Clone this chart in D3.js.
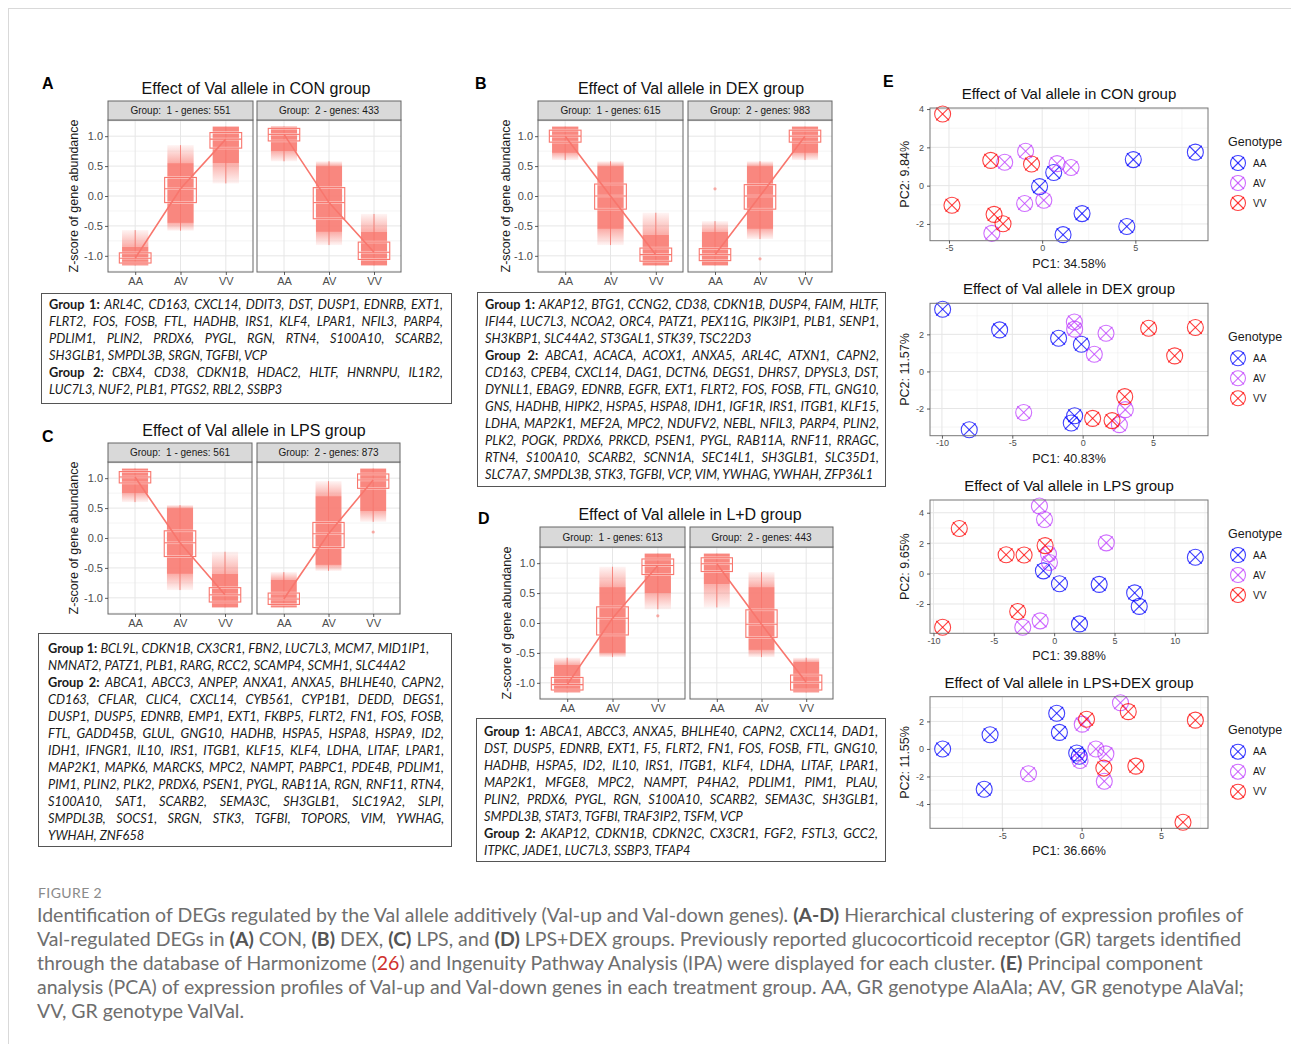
<!DOCTYPE html>
<html>
<head>
<meta charset="utf-8">
<script src="https://cdn.jsdelivr.net/npm/d3@7"></script>
<style>
  body { margin: 0; background: #fff; }
  #fig { position: relative; width: 1291px; height: 1044px; overflow: hidden; }
  #fig svg { position: absolute; left: 0; top: 0; }
  .genebox, .measure {
    font-family: Lato, "Liberation Sans", sans-serif; font-size: 13.5px; color: #1a1a1a;
  }
  .genebox {
    position: absolute; box-sizing: border-box; border: 1px solid #555; line-height: 17px;
  }
  .measure { position: absolute; visibility: hidden; white-space: nowrap; left: 0; top: 0; }
  .ln { font-style: italic; height: 17px; overflow: visible; }
  .full { text-align: justify; text-align-last: justify; }
  .genebox b, .measure b { font-style: normal; font-weight: 700; }
  .measure span { font-style: italic; }
</style>
</head>
<body>
<div id="fig"></div>
<script>
// ---- data: panels A-D (z-score profiles) ----
const genotypes = ["AA", "AV", "VV"];
const panelLetters = ["A", "B", "C", "D"];
const panelTitles = [
    "Effect of Val allele in CON group",
    "Effect of Val allele in DEX group",
    "Effect of Val allele in LPS group",
    "Effect of Val allele in L+D group"
];
const geneCounts = [[551, 433], [615, 983], [561, 873], [613, 443]];
const zTicks = [-1, -0.5, 0, 0.5, 1];

// one row per facet (A1, A2, B1, B2, C1, C2, D1, D2), columns AA, AV, VV
const boxQ1 = [
    [-1.12, -0.11, 0.80], [0.92, -0.38, -1.06],
    [0.90, -0.22, -1.09], [-1.08, -0.22, 0.90],
    [0.92, -0.31, -1.07], [-1.11, -0.16, 0.83],
    [-1.12, -0.20, 0.81], [0.86, -0.24, -1.12]
];
const boxMedian = [
    [-1.04, 0.12, 0.95], [1.03, -0.11, -0.94],
    [1.00, 0.00, -0.98], [-0.98, 0.00, 1.00],
    [1.02, -0.08, -0.95], [-1.02, 0.07, 0.97],
    [-1.03, 0.08, 0.96], [0.99, -0.02, -0.99]
];
const boxQ3 = [
    [-0.95, 0.31, 1.06], [1.13, 0.14, -0.77],
    [1.10, 0.20, -0.87], [-0.88, 0.19, 1.10],
    [1.11, 0.12, -0.83], [-0.92, 0.26, 1.07],
    [-0.91, 0.27, 1.07], [1.09, 0.22, -0.87]
];
const cloudMin = [
    [-1.16, -0.58, 0.21], [0.58, -0.82, -1.16],
    [0.60, -0.82, -1.16], [-1.16, -0.72, 0.60],
    [0.60, -0.87, -1.16], [-1.16, -0.55, 0.27],
    [-1.16, -0.57, 0.23], [0.26, -0.57, -1.16]
];
const cloudCoreLo = [
    [-1.16, -0.45, 0.55], [0.75, -0.60, -1.16],
    [0.72, -0.55, -1.16], [-1.16, -0.55, 0.72],
    [0.75, -0.60, -1.16], [-1.16, -0.45, 0.45],
    [-1.16, -0.50, 0.50], [0.65, -0.45, -1.16]
];
const cloudCoreHi = [
    [-0.85, 0.55, 1.16], [1.16, 0.50, -0.60],
    [1.16, 0.50, -0.65], [-0.60, 0.50, 1.16],
    [1.16, 0.50, -0.60], [-0.70, 0.70, 1.16],
    [-0.70, 0.60, 1.16], [1.16, 0.60, -0.65]
];
const cloudMax = [
    [-0.57, 0.85, 1.16], [1.16, 0.58, -0.30],
    [1.16, 0.58, -0.28], [-0.42, 0.58, 1.16],
    [1.16, 0.55, -0.23], [-0.57, 0.95, 1.16],
    [-0.58, 0.94, 1.16], [1.16, 0.85, -0.58]
];
// stray points: [facet, genotype index, z]
const strayPoints = [[3, 0, 0.12], [3, 1, -1.05], [5, 2, 0.10], [6, 2, 0.12]];

// ---- data: panel E (PCA) ----
const pcaTitles = [
    "Effect of Val allele in CON group",
    "Effect of Val allele in DEX group",
    "Effect of Val allele in LPS group",
    "Effect of Val allele in LPS+DEX group"
];
const pc1Labels = ["PC1: 34.58%", "PC1: 40.83%", "PC1: 39.88%", "PC1: 36.66%"];
const pc2Labels = ["PC2: 9.84%", "PC2: 11.57%", "PC2: 9.65%", "PC2: 11.55%"];
const sampleGeno = ["AA","AA","AA","AA","AA","AA","AA","AV","AV","AV","AV","AV","AV","AV","VV","VV","VV","VV","VV","VV"];

const conPC1 = [-0.14, 0.62, 2.14, 1.12, 4.54, 4.89, 8.22, -2.01, -0.89, 0.80, 1.55, -0.94, 0.09, -2.70, -5.34, -2.76, -0.57, -4.84, -2.58, -2.10];
const conPC2 = [-0.05, 0.69, -1.46, -2.56, -2.13, 1.36, 1.75, 1.22, 1.80, 1.15, 0.95, -0.93, -0.76, -2.49, 3.74, 1.32, 1.13, -1.02, -1.50, -1.99];
const dexPC1 = [-9.95, -5.90, -1.71, -0.09, -8.06, -0.57, -0.81, -0.59, -0.57, 1.66, 0.83, -4.19, 3.03, 2.61, 4.69, 8.01, 6.54, 2.99, 0.71, 2.09];
const dexPC2 = [3.35, 2.24, 1.79, 1.47, -3.14, -2.39, -2.78, 2.67, 2.28, 2.06, 0.93, -2.21, -2.06, -2.87, 2.33, 2.37, 0.84, -1.36, -2.53, -2.65];
const lpsPC1 = [-0.89, 0.44, 3.73, 6.67, 7.05, 2.10, 11.70, -1.22, -0.80, -0.47, -0.39, 4.32, -1.16, -2.60, -7.86, -3.98, -2.49, -0.75, -3.02, -9.24];
const lpsPC2 = [0.18, -0.67, -0.71, -1.27, -2.16, -3.31, 1.07, 4.44, 3.56, 1.29, 0.73, 2.02, -3.11, -3.53, 2.96, 1.24, 1.22, 1.84, -2.49, -3.53];
const ldPC1 = [-8.76, -5.77, -1.57, -1.40, -6.14, -0.31, -0.15, -3.35, 0.04, 2.45, 0.90, 1.53, 1.43, -0.10, 0.31, 2.94, 7.17, 1.40, 3.42, 6.39];
const ldPC2 = [0.00, 1.03, 2.59, 1.20, -2.93, -0.29, -0.53, -1.80, 1.80, 3.36, 0.00, -0.36, -2.35, -0.84, 2.16, 2.71, 2.09, -1.39, -1.25, -5.33];
const pcaTickStep = [[5, 2], [5, 2], [5, 2], [5, 2]];

// ---- gene lists (one string per printed line) ----
const conGroup1 = ["ARL4C, CD163, CXCL14, DDIT3, DST, DUSP1, EDNRB, EXT1,", "FLRT2, FOS, FOSB, FTL, HADHB, IRS1, KLF4, LPAR1, NFIL3, PARP4,", "PDLIM1, PLIN2, PRDX6, PYGL, RGN, RTN4, S100A10, SCARB2,", "SH3GLB1, SMPDL3B, SRGN, TGFBI, VCP"];
const conGroup2 = ["CBX4, CD38, CDKN1B, HDAC2, HLTF, HNRNPU, IL1R2,", "LUC7L3, NUF2, PLB1, PTGS2, RBL2, SSBP3"];
const dexGroup1 = ["AKAP12, BTG1, CCNG2, CD38, CDKN1B, DUSP4, FAIM, HLTF,", "IFI44, LUC7L3, NCOA2, ORC4, PATZ1, PEX11G, PIK3IP1, PLB1, SENP1,", "SH3KBP1, SLC44A2, ST3GAL1, STK39, TSC22D3"];
const dexGroup2 = ["ABCA1, ACACA, ACOX1, ANXA5, ARL4C, ATXN1, CAPN2,", "CD163, CPEB4, CXCL14, DAG1, DCTN6, DEGS1, DHRS7, DPYSL3, DST,", "DYNLL1, EBAG9, EDNRB, EGFR, EXT1, FLRT2, FOS, FOSB, FTL, GNG10,", "GNS, HADHB, HIPK2, HSPA5, HSPA8, IDH1, IGF1R, IRS1, ITGB1, KLF15,", "LDHA, MAP2K1, MEF2A, MPC2, NDUFV2, NEBL, NFIL3, PARP4, PLIN2,", "PLK2, POGK, PRDX6, PRKCD, PSEN1, PYGL, RAB11A, RNF11, RRAGC,", "RTN4, S100A10, SCARB2, SCNN1A, SEC14L1, SH3GLB1, SLC35D1,", "SLC7A7, SMPDL3B, STK3, TGFBI, VCP, VIM, YWHAG, YWHAH, ZFP36L1"];
const lpsGroup1 = ["BCL9L, CDKN1B, CX3CR1, FBN2, LUC7L3, MCM7, MID1IP1,", "NMNAT2, PATZ1, PLB1, RARG, RCC2, SCAMP4, SCMH1, SLC44A2"];
const lpsGroup2 = ["ABCA1, ABCC3, ANPEP, ANXA1, ANXA5, BHLHE40, CAPN2,", "CD163, CFLAR, CLIC4, CXCL14, CYB561, CYP1B1, DEDD, DEGS1,", "DUSP1, DUSP5, EDNRB, EMP1, EXT1, FKBP5, FLRT2, FN1, FOS, FOSB,", "FTL, GADD45B, GLUL, GNG10, HADHB, HSPA5, HSPA8, HSPA9, ID2,", "IDH1, IFNGR1, IL10, IRS1, ITGB1, KLF15, KLF4, LDHA, LITAF, LPAR1,", "MAP2K1, MAPK6, MARCKS, MPC2, NAMPT, PABPC1, PDE4B, PDLIM1,", "PIM1, PLIN2, PLK2, PRDX6, PSEN1, PYGL, RAB11A, RGN, RNF11, RTN4,", "S100A10, SAT1, SCARB2, SEMA3C, SH3GLB1, SLC19A2, SLPI,", "SMPDL3B, SOCS1, SRGN, STK3, TGFBI, TOPORS, VIM, YWHAG,", "YWHAH, ZNF658"];
const ldGroup1 = ["ABCA1, ABCC3, ANXA5, BHLHE40, CAPN2, CXCL14, DAD1,", "DST, DUSP5, EDNRB, EXT1, F5, FLRT2, FN1, FOS, FOSB, FTL, GNG10,", "HADHB, HSPA5, ID2, IL10, IRS1, ITGB1, KLF4, LDHA, LITAF, LPAR1,", "MAP2K1, MFGE8, MPC2, NAMPT, P4HA2, PDLIM1, PIM1, PLAU,", "PLIN2, PRDX6, PYGL, RGN, S100A10, SCARB2, SEMA3C, SH3GLB1,", "SMPDL3B, STAT3, TGFBI, TRAF3IP2, TSFM, VCP"];
const ldGroup2 = ["AKAP12, CDKN1B, CDKN2C, CX3CR1, FGF2, FSTL3, GCC2,", "ITPKC, JADE1, LUC7L3, SSBP3, TFAP4"];

// caption: [text, style] style 0 normal, 1 bold, 2 reference link
const captionLines = [
    [["Identification of DEGs regulated by the Val allele additively (Val-up and Val-down genes). ", 0], ["(A-D)", 1], [" Hierarchical clustering of expression profiles of", 0]],
    [["Val-regulated DEGs in ", 0], ["(A)", 1], [" CON, ", 0], ["(B)", 1], [" DEX, ", 0], ["(C)", 1], [" LPS, and ", 0], ["(D)", 1], [" LPS+DEX groups. Previously reported glucocorticoid receptor (GR) targets identified", 0]],
    [["through the database of Harmonizome (", 0], ["26", 2], [") and Ingenuity Pathway Analysis (IPA) were displayed for each cluster. ", 0], ["(E)", 1], [" Principal component", 0]],
    [["analysis (PCA) of expression profiles of Val-up and Val-down genes in each treatment group. AA, GR genotype AlaAla; AV, GR genotype AlaVal;", 0]],
    [["VV, GR genotype ValVal.", 0]]
];

// ---- layout ----
const W = 1291, H = 1044;
const salmon = "#F8766D";
const genoColor = d3.scaleOrdinal().domain(genotypes).range(["#0000FF", "#BF3EFF", "#FF0000"]);

const panelLayout = [
    { letter: [42, 88.5], titleX: 256, ylab: 74, facets: [[108, 253], [257, 401]], strip: [101, 120], plot: [120, 272] },
    { letter: [475, 88.5], titleX: 691, ylab: 506, facets: [[538, 683], [688, 832]], strip: [101, 120], plot: [120, 272] },
    { letter: [42, 442], titleX: 254, ylab: 74, facets: [[108, 252], [257, 400]], strip: [443, 462], plot: [462, 614] },
    { letter: [478, 523.5], titleX: 690, ylab: 507, facets: [[540, 685], [690, 833]], strip: [527, 547], plot: [547, 699] }
];
const pcaLayout = [[108, 240.7], [303.3, 435.7], [500, 633.3], [696.7, 828.3]];
const pcaX = [930, 1208];
const boxLayout = [
    { left: 41, top: 293, width: 411, height: 111, pad: [2, 8, 0, 7] },
    { left: 477, top: 292, width: 409, height: 195, pad: [2.5, 6, 0, 7] },
    { left: 38, top: 633, width: 414, height: 214, pad: [5.5, 7, 0, 9] },
    { left: 476, top: 718, width: 410, height: 144, pad: [4, 7, 0, 7] }
];

const fig = d3.select("#fig");
const svg = fig.append("svg")
    .attr("width", W).attr("height", H)
    .style("font-family", "'Liberation Sans', Arial, sans-serif");

// figure frame
svg.append("line").attr("x1", 8).attr("x2", W).attr("y1", 8.5).attr("y2", 8.5).attr("stroke", "#d9d9d9");
svg.append("line").attr("x1", 8.5).attr("x2", 8.5).attr("y1", 8).attr("y2", H).attr("stroke", "#d9d9d9");

const defs = svg.append("defs");
[["fadeUp", 0.08, 0.6], ["fadeDown", 0.6, 0.08]].forEach(([id, a, b]) => {
    const g = defs.append("linearGradient").attr("id", id).attr("x1", 0).attr("y1", 0).attr("x2", 0).attr("y2", 1);
    g.append("stop").attr("offset", 0).attr("stop-color", salmon).attr("stop-opacity", a);
    g.append("stop").attr("offset", 1).attr("stop-color", salmon).attr("stop-opacity", b);
});

function styleAxis(sel, size) {
    sel.select(".domain").remove();
    sel.selectAll(".tick line").attr("stroke", "#333").attr("stroke-width", 0.8);
    sel.selectAll(".tick text").attr("fill", "#4d4d4d").style("font-size", size + "px")
        .style("font-family", "'Liberation Sans', Arial, sans-serif");
}

function drawProfilePanel(p) {
    const L = panelLayout[p];
    const [yTop, yBot] = L.plot;
    const y = d3.scaleLinear().domain([-1.27, 1.27]).range([yBot, yTop]);

    svg.append("text").attr("x", L.letter[0]).attr("y", L.letter[1])
        .style("font-size", "16px").style("font-weight", "bold").text(panelLetters[p]);
    svg.append("text").attr("x", L.titleX).attr("y", L.strip[0] - 7).attr("text-anchor", "middle")
        .style("font-size", "16px").attr("fill", "#111").text(panelTitles[p]);
    svg.append("text")
        .attr("transform", `translate(${L.ylab},${(yTop + yBot) / 2}) rotate(-90)`)
        .attr("text-anchor", "middle").attr("dy", "0.35em")
        .style("font-size", "12.5px").attr("fill", "#1a1a1a")
        .text("Z-score of gene abundance");

    L.facets.forEach(([x0, x1], g) => {
        const f = p * 2 + g;
        const x = d3.scalePoint().domain(genotypes).range([x0, x1]).padding(0.6);
        const step = x.step();
        const panel = svg.append("g");

        panel.append("rect").attr("x", x0).attr("y", yTop).attr("width", x1 - x0).attr("height", yBot - yTop).attr("fill", "#fff");
        const minor = d3.range(-1.25, 1.26, 0.25).filter(v => !zTicks.some(t => Math.abs(t - v) < 1e-9));
        panel.selectAll(".minor").data(minor).enter().append("line")
            .attr("x1", x0).attr("x2", x1).attr("y1", d => y(d)).attr("y2", d => y(d))
            .attr("stroke", "#ececec").attr("stroke-width", 0.6);
        panel.selectAll(".major").data(zTicks).enter().append("line")
            .attr("x1", x0).attr("x2", x1).attr("y1", d => y(d)).attr("y2", d => y(d))
            .attr("stroke", "#e6e6e6").attr("stroke-width", 1);
        panel.selectAll(".vmajor").data(genotypes).enter().append("line")
            .attr("x1", d => x(d)).attr("x2", d => x(d)).attr("y1", yTop).attr("y2", yBot)
            .attr("stroke", "#e6e6e6").attr("stroke-width", 1);

        const cw = step * 0.58, bw = step * 0.7;
        genotypes.forEach((gt, k) => {
            const cx = x(gt);
            // jitter cloud: dense core + fading tails
            panel.append("rect").attr("x", cx - cw / 2).attr("width", cw)
                .attr("y", y(cloudCoreHi[f][k])).attr("height", y(cloudCoreLo[f][k]) - y(cloudCoreHi[f][k]))
                .attr("fill", salmon).attr("fill-opacity", 0.88);
            if (cloudMax[f][k] > cloudCoreHi[f][k]) {
                panel.append("rect").attr("x", cx - cw / 2).attr("width", cw)
                    .attr("y", y(cloudMax[f][k])).attr("height", y(cloudCoreHi[f][k]) - y(cloudMax[f][k]))
                    .attr("fill", "url(#fadeUp)");
            }
            if (cloudMin[f][k] < cloudCoreLo[f][k]) {
                panel.append("rect").attr("x", cx - cw / 2).attr("width", cw)
                    .attr("y", y(cloudCoreLo[f][k])).attr("height", y(cloudMin[f][k]) - y(cloudCoreLo[f][k]))
                    .attr("fill", "url(#fadeDown)");
            }
        });
        strayPoints.filter(s => s[0] === f).forEach(s => {
            panel.append("circle").attr("cx", x(genotypes[s[1]])).attr("cy", y(s[2])).attr("r", 1.6)
                .attr("fill", salmon).attr("fill-opacity", 0.6);
        });

        // boxplots
        genotypes.forEach((gt, k) => {
            const cx = x(gt);
            panel.append("line").attr("x1", cx).attr("x2", cx).attr("y1", y(cloudMin[f][k])).attr("y2", y(cloudMax[f][k]))
                .attr("stroke", salmon).attr("stroke-width", 0.8);
            [["#fff", 2.6, 0.5], [salmon, 1.1, 1]].forEach(([c, w, o]) => {
                panel.append("rect").attr("x", cx - bw / 2).attr("width", bw)
                    .attr("y", y(boxQ3[f][k])).attr("height", y(boxQ1[f][k]) - y(boxQ3[f][k]))
                    .attr("fill", "none").attr("stroke", c).attr("stroke-width", w).attr("stroke-opacity", o);
                panel.append("line").attr("x1", cx - bw / 2).attr("x2", cx + bw / 2)
                    .attr("y1", y(boxMedian[f][k])).attr("y2", y(boxMedian[f][k]))
                    .attr("stroke", c).attr("stroke-width", w).attr("stroke-opacity", o);
            });
        });
        panel.append("path")
            .datum(genotypes.map((gt, k) => [x(gt), y(boxMedian[f][k])]))
            .attr("d", d3.line()).attr("fill", "none").attr("stroke", salmon).attr("stroke-width", 1.6);

        panel.append("rect").attr("x", x0).attr("y", yTop).attr("width", x1 - x0).attr("height", yBot - yTop)
            .attr("fill", "none").attr("stroke", "#666").attr("stroke-width", 1);

        // strip
        panel.append("rect").attr("x", x0).attr("y", L.strip[0]).attr("width", x1 - x0).attr("height", L.strip[1] - L.strip[0])
            .attr("fill", "#d9d9d9").attr("stroke", "#666").attr("stroke-width", 1);
        panel.append("text").attr("x", (x0 + x1) / 2).attr("y", (L.strip[0] + L.strip[1]) / 2 + 3.6)
            .attr("text-anchor", "middle").style("font-size", "10px").style("white-space", "pre").attr("fill", "#1a1a1a")
            .text(`Group:  ${g + 1} - genes: ${geneCounts[p][g]}`);

        panel.append("g").attr("transform", `translate(0,${yBot})`)
            .call(d3.axisBottom(x).tickSize(3).tickPadding(2))
            .call(s => styleAxis(s, 11));
        if (g === 0) {
            panel.append("g").attr("transform", `translate(${x0},0)`)
                .call(d3.axisLeft(y).tickValues(zTicks).tickFormat(d => d.toFixed(1)).tickSize(3).tickPadding(2))
                .call(s => styleAxis(s, 11));
        }
    });
}

function glyph(sel, r, color) {
    const d = r * 0.8;
    sel.append("circle").attr("r", r).attr("fill", "none").attr("stroke", color);
    sel.append("line").attr("x1", -d).attr("y1", -d).attr("x2", d).attr("y2", d).attr("stroke", color);
    sel.append("line").attr("x1", -d).attr("y1", d).attr("x2", d).attr("y2", -d).attr("stroke", color);
}

function expand(vals) {
    const [a, b] = d3.extent(vals);
    const m = (b - a) * 0.05;
    return [a - m, b + m];
}

const pcaSets = [[conPC1, conPC2], [dexPC1, dexPC2], [lpsPC1, lpsPC2], [ldPC1, ldPC2]];

function drawPcaPanel(i) {
    const [pc1, pc2] = pcaSets[i];
    const [yTop, yBot] = pcaLayout[i];
    const [x0, x1] = pcaX;
    const x = d3.scaleLinear().domain(expand(pc1)).range([x0, x1]);
    const y = d3.scaleLinear().domain(expand(pc2)).range([yBot, yTop]);
    const [sx, sy] = pcaTickStep[i];
    const xd = x.domain(), yd = y.domain();
    const xMajor = d3.range(Math.ceil(xd[0] / sx) * sx, xd[1] + 1e-9, sx);
    const yMajor = d3.range(Math.ceil(yd[0] / sy) * sy, yd[1] + 1e-9, sy);
    const xMinor = d3.range(Math.ceil(xd[0] / (sx / 2)) * sx / 2, xd[1], sx / 2).filter(v => !xMajor.includes(v));
    const yMinor = d3.range(Math.ceil(yd[0] / (sy / 2)) * sy / 2, yd[1], sy / 2).filter(v => !yMajor.includes(v));

    const g = svg.append("g");
    if (i === 0) {
        g.append("text").attr("x", 883).attr("y", 86.7).style("font-size", "16px").style("font-weight", "bold").text("E");
    }
    g.append("text").attr("x", (x0 + x1) / 2).attr("y", yTop - 9).attr("text-anchor", "middle")
        .style("font-size", "15px").attr("fill", "#111").text(pcaTitles[i]);

    xMinor.forEach(v => g.append("line").attr("x1", x(v)).attr("x2", x(v)).attr("y1", yTop).attr("y2", yBot).attr("stroke", "#efefef").attr("stroke-width", 0.6));
    yMinor.forEach(v => g.append("line").attr("x1", x0).attr("x2", x1).attr("y1", y(v)).attr("y2", y(v)).attr("stroke", "#efefef").attr("stroke-width", 0.6));
    xMajor.forEach(v => g.append("line").attr("x1", x(v)).attr("x2", x(v)).attr("y1", yTop).attr("y2", yBot).attr("stroke", "#e6e6e6"));
    yMajor.forEach(v => g.append("line").attr("x1", x0).attr("x2", x1).attr("y1", y(v)).attr("y2", y(v)).attr("stroke", "#e6e6e6"));

    const pts = g.append("g").attr("stroke-width", 1.1).attr("stroke-opacity", 0.75);
    pc1.forEach((v, k) => {
        pts.append("g").attr("transform", `translate(${x(v)},${y(pc2[k])})`)
            .call(s => glyph(s, 8, genoColor(sampleGeno[k])));
    });

    g.append("rect").attr("x", x0).attr("y", yTop).attr("width", x1 - x0).attr("height", yBot - yTop)
        .attr("fill", "none").attr("stroke", "#777").attr("stroke-width", 1);

    g.append("g").attr("transform", `translate(0,${yBot})`)
        .call(d3.axisBottom(x).tickValues(xMajor).tickSize(3).tickPadding(1))
        .call(s => styleAxis(s, 9))
        .selectAll("text").text(d => String(d));
    g.append("g").attr("transform", `translate(${x0},0)`)
        .call(d3.axisLeft(y).tickValues(yMajor).tickSize(3).tickPadding(3))
        .call(s => styleAxis(s, 9))
        .selectAll("text").text(d => String(d));

    g.append("text").attr("x", (x0 + x1) / 2).attr("y", yBot + 27).attr("text-anchor", "middle")
        .style("font-size", "12.5px").attr("fill", "#1a1a1a").text(pc1Labels[i]);
    g.append("text").attr("transform", `translate(905,${(yTop + yBot) / 2}) rotate(-90)`)
        .attr("text-anchor", "middle").attr("dy", "0.35em")
        .style("font-size", "12.5px").attr("fill", "#1a1a1a").text(pc2Labels[i]);

    // legend
    g.append("text").attr("x", 1228).attr("y", yTop + 37.5).style("font-size", "12.5px").attr("fill", "#1a1a1a").text("Genotype");
    genotypes.forEach((gt, k) => {
        const ky = yTop + 55 + k * 20;
        g.append("g").attr("transform", `translate(1238,${ky})`).attr("stroke-width", 1.1).attr("stroke-opacity", 0.75)
            .call(s => glyph(s, 7.5, genoColor(gt)));
        g.append("text").attr("x", 1253).attr("y", ky + 3.5).style("font-size", "10px").attr("fill", "#1a1a1a").text(gt);
    });
}

d3.range(4).forEach(drawProfilePanel);
d3.range(4).forEach(drawPcaPanel);

// gene boxes
const geneBoxes = [
    [{ label: "Group 1:", lines: conGroup1, justify: true }, { label: "Group 2:", lines: conGroup2, justify: true }],
    [{ label: "Group 1:", lines: dexGroup1, justify: true }, { label: "Group 2:", lines: dexGroup2, justify: true }],
    [{ label: "Group 1:", lines: lpsGroup1, justify: false }, { label: "Group 2:", lines: lpsGroup2, justify: true }],
    [{ label: "Group 1:", lines: ldGroup1, justify: true }, { label: "Group 2:", lines: ldGroup2, justify: true }]
];

// find a font size at which every printed line fits its box
const measure = fig.append("span").attr("class", "measure");
let fit = 1;
geneBoxes.forEach((groups, i) => {
    const L = boxLayout[i];
    const avail = L.width - 2 - L.pad[1] - L.pad[3];
    groups.forEach(grp => grp.lines.forEach((ln, k) => {
        measure.html("");
        if (k === 0) measure.append("b").text(grp.label + " ");
        measure.append("span").text(ln);
        fit = Math.min(fit, avail / measure.node().getBoundingClientRect().width);
    }));
});
measure.remove();
const geneFont = 13.5 * fit * 0.99;

geneBoxes.forEach((groups, i) => {
    const L = boxLayout[i];
    const div = fig.append("div").attr("class", "genebox")
        .style("left", L.left + "px").style("top", L.top + "px")
        .style("width", L.width + "px").style("height", L.height + "px")
        .style("font-size", geneFont + "px")
        .style("padding", L.pad.map(v => v + "px").join(" "));
    groups.forEach(grp => {
        grp.lines.forEach((ln, k) => {
            const full = grp.justify && k < grp.lines.length - 1;
            const row = div.append("div").attr("class", full ? "ln full" : "ln");
            if (k === 0) row.append("b").text(grp.label + " ");
            row.append("span").text(ln);
        });
    });
});

// caption
svg.append("text").attr("x", 38).attr("y", 898).style("font-family", "Lato, 'Open Sans', sans-serif")
    .style("font-size", "14px").style("letter-spacing", "0.4px").attr("fill", "#8a8a8a").text("FIGURE 2");
const cap = svg.append("g").style("font-family", "Lato, 'Open Sans', sans-serif").style("font-size", "17px").attr("fill", "#6e6e6e");
const capTexts = captionLines.map((segs, i) => {
    const t = cap.append("text").attr("x", 37).attr("y", 921.5 + i * 24).style("white-space", "pre");
    segs.forEach(([s, kind]) => {
        const ts = t.append("tspan").text(s);
        if (kind === 1) ts.style("font-weight", "bold").attr("fill", "#555");
        if (kind === 2) ts.attr("fill", "#d0312d");
    });
    return t;
});
const w0 = capTexts[0].node().getComputedTextLength();
cap.style("font-size", (17 * 1207 / w0).toFixed(2) + "px");
</script>
</body>
</html>
